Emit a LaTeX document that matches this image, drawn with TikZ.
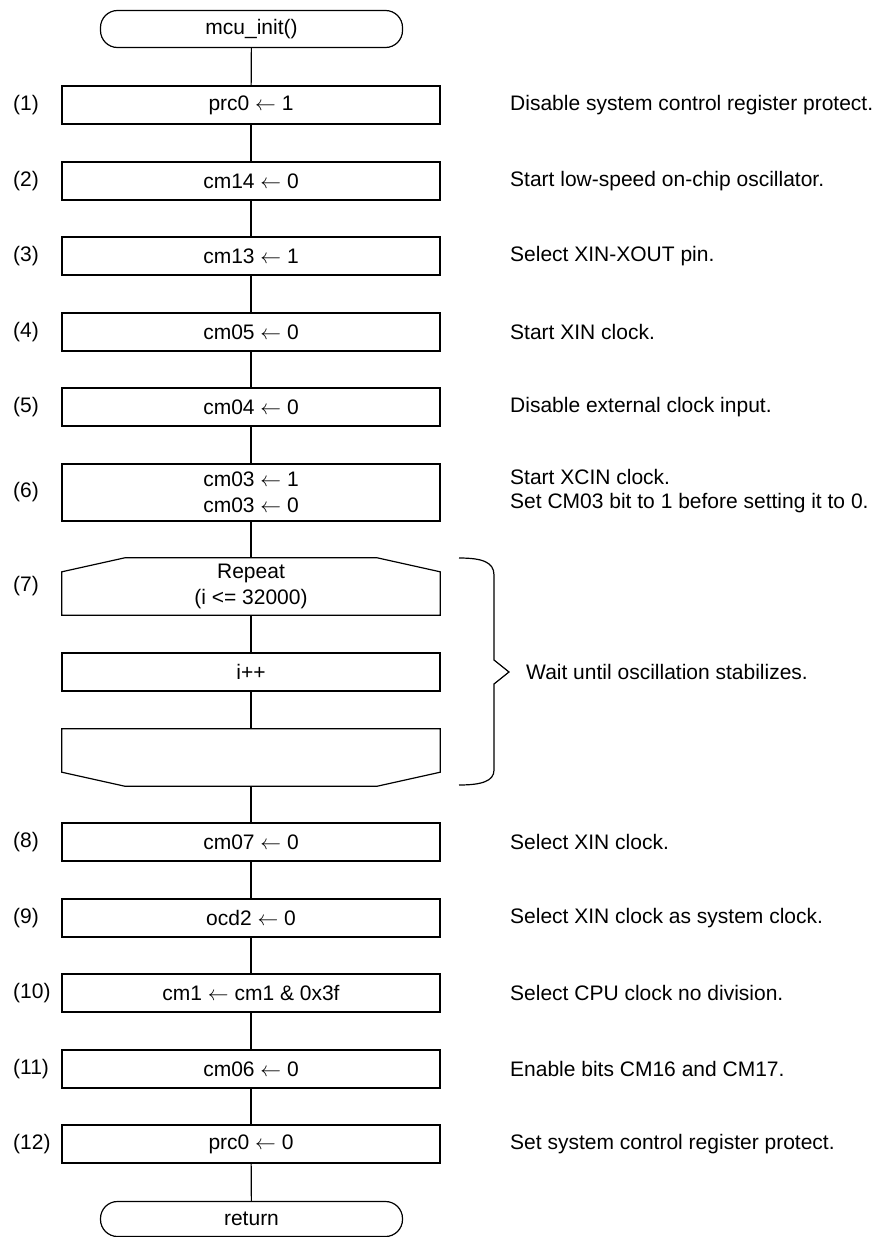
\documentclass[tikz,border=0pt]{standalone}
\usepackage{fontspec}
\setmainfont{Liberation Sans}
\usetikzlibrary{calc}
\newcommand{\larr}{$\leftarrow$}
\begin{document}
\begin{tikzpicture}[x=1pt,y=-1pt,
  every node/.style={font=\fontsize{21}{26.5}\selectfont},
  conn/.style={line width=1.2pt},
  proc/.style={draw, line width=1.2pt, rectangle, minimum width=378pt, minimum height=38pt, inner sep=0pt, align=center},
  term/.style={draw, line width=1.2pt, rectangle, rounded corners=17pt, minimum width=302pt, minimum height=37pt, inner sep=0pt},
  loopbox/.style={rectangle, minimum width=378pt, minimum height=57pt, inner sep=0pt, align=center},
  lbl/.style={anchor=west, inner sep=0pt},
  note/.style={anchor=west, inner sep=0pt, align=left}]
\useasboundingbox (0,0) rectangle (873,1237);

% terminals
\node[term] (t0) at (251.5,29) {mcu\_init()};
\node[term, minimum height=35pt] (tr) at (251.5,1219) {return};

% process boxes
\node[proc] (b1) at (251,105) {prc0 \larr{} 1};
\node[proc] (b2) at (251,181) {cm14 \larr{} 0};
\node[proc] (b3) at (251,256) {cm13 \larr{} 1};
\node[proc] (b4) at (251,332) {cm05 \larr{} 0};
\node[proc] (b5) at (251,407) {cm04 \larr{} 0};
\node[proc, minimum height=57pt] (b6) at (251,492.5) {cm03 \larr{} 1\\cm03 \larr{} 0};
\node[loopbox] (ls) at (251,586.5) {Repeat\\(i <= 32000)};
\node[proc] (bi) at (251,672) {i++};
\node[loopbox] (le) at (251,757.5) {};
\node[proc] (b8) at (251,842) {cm07 \larr{} 0};
\node[proc] (b9) at (251,918) {ocd2 \larr{} 0};
\node[proc] (b10) at (251,993) {cm1 \larr{} cm1 \& 0x3f};
\node[proc] (b11) at (251,1069) {cm06 \larr{} 0};
\node[proc] (b12) at (251,1144) {prc0 \larr{} 0};

% loop shapes
\draw[conn] ($(ls.north west)+(0,14)$) -- ($(ls.north west)+(63,0)$) -- ($(ls.north east)+(-63,0)$) -- ($(ls.north east)+(0,14)$) -- (ls.south east) -- (ls.south west) -- cycle;
\draw[conn] (le.north west) -- (le.north east) -- ($(le.south east)+(0,-14)$) -- ($(le.south east)+(-63,0)$) -- ($(le.south west)+(63,0)$) -- ($(le.south west)+(0,-14)$) -- cycle;

% connectors
\draw[conn] (t0) -- (b1);
\draw[conn] (b1) -- (b2);
\draw[conn] (b2) -- (b3);
\draw[conn] (b3) -- (b4);
\draw[conn] (b4) -- (b5);
\draw[conn] (b5) -- (b6);
\draw[conn] (b6) -- (ls);
\draw[conn] (ls) -- (bi);
\draw[conn] (bi) -- (le);
\draw[conn] (le) -- (b8);
\draw[conn] (b8) -- (b9);
\draw[conn] (b9) -- (b10);
\draw[conn] (b10) -- (b11);
\draw[conn] (b11) -- (b12);
\draw[conn] (b12) -- (tr);

% step labels
\node[lbl] (l1) at (13,105) {(1)};
\node[lbl] (l2) at (13,181) {(2)};
\node[lbl] (l3) at (13,256) {(3)};
\node[lbl] (l4) at (13,332) {(4)};
\node[lbl] (l5) at (13,407) {(5)};
\node[lbl] (l6) at (13,492.5) {(6)};
\node[lbl] (l7) at (13,586.5) {(7)};
\node[lbl] (l8) at (13,842) {(8)};
\node[lbl] (l9) at (13,918) {(9)};
\node[lbl] (l10) at (13,993) {(10)};
\node[lbl] (l11) at (13,1069) {(11)};
\node[lbl] (l12) at (13,1144) {(12)};

% notes
\node[note] (n1) at (510,105) {Disable system control register protect.};
\node[note] (n2) at (510,181) {Start low-speed on-chip oscillator.};
\node[note] (n3) at (510,256) {Select XIN-XOUT pin.};
\node[note] (n4) at (510,332) {Start XIN clock.};
\node[note] (n5) at (510,407) {Disable external clock input.};
\node[note, font=\fontsize{21}{24}\selectfont] (n6) at (510,491) {Start XCIN clock.\\Set CM03 bit to 1 before setting it to 0.};
\node[note] (n7) at (526,672) {Wait until oscillation stabilizes.};
\node[note] (n8) at (510,842) {Select XIN clock.};
\node[note] (n9) at (510,918) {Select XIN clock as system clock.};
\node[note] (n10) at (510,993) {Select CPU clock no division.};
\node[note] (n11) at (510,1069) {Enable bits CM16 and CM17.};
\node[note] (n12) at (510,1144) {Set system control register protect.};

% brace
\draw[conn] (459,558) .. controls (482,558) and (494,562) .. (494,575) -- (494,660) -- (509,672) -- (494,684) -- (494,770) .. controls (494,781) and (482,785) .. (459,785);
\end{tikzpicture}
\end{document}
